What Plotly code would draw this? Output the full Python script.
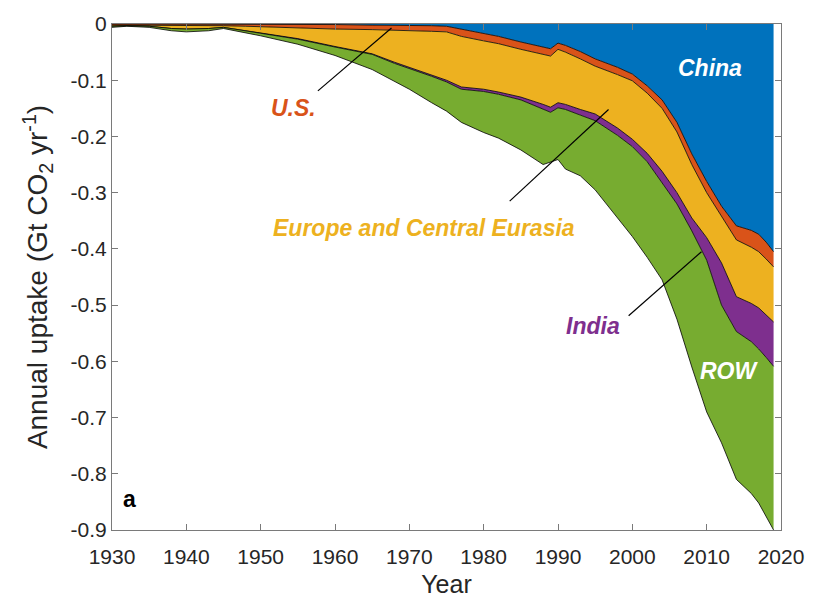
import plotly.graph_objects as go

# Annual CO2 uptake by region (Gt CO2 per year; negative = uptake)
years = [1930, 1932, 1935, 1938, 1940, 1943, 1945, 1948, 1950, 1955, 1960, 1965,
         1968, 1970, 1973, 1975, 1977, 1980, 1982, 1985, 1988, 1989, 1990, 1991,
         1993, 1995, 1998, 2000, 2002, 2004, 2006, 2008, 2010, 2012, 2014, 2016,
         2017, 2018, 2019]

china = [0.000, 0.000, 0.000, 0.000, 0.000, 0.000, 0.000, 0.000, 0.000, -0.001, -0.001, -0.002,
         -0.002, -0.002, -0.003, -0.004, -0.009, -0.017, -0.022, -0.032, -0.041, -0.044, -0.034, -0.038,
         -0.049, -0.062, -0.077, -0.089, -0.110, -0.135, -0.175, -0.231, -0.280, -0.324, -0.359, -0.367,
         -0.374, -0.388, -0.405]

us = [-0.002, -0.002, -0.002, -0.003, -0.003, -0.003, -0.003, -0.004, -0.005, -0.006, -0.008, -0.008,
      -0.009, -0.009, -0.010, -0.010, -0.013, -0.013, -0.013, -0.013, -0.013, -0.013, -0.011, -0.012,
      -0.013, -0.013, -0.013, -0.012, -0.013, -0.015, -0.017, -0.019, -0.020, -0.018, -0.025, -0.030,
      -0.031, -0.030, -0.027]

europe = [-0.002, -0.001, -0.002, -0.005, -0.006, -0.005, -0.003, -0.008, -0.012, -0.019, -0.031, -0.043,
          -0.057, -0.066, -0.078, -0.086, -0.090, -0.086, -0.086, -0.085, -0.089, -0.091, -0.095, -0.093,
          -0.090, -0.085, -0.095, -0.104, -0.107, -0.112, -0.108, -0.095, -0.080, -0.083, -0.101, -0.100,
          -0.100, -0.099, -0.098]

india = [0.000, 0.000, 0.000, 0.000, 0.000, 0.000, 0.000, 0.000, 0.000, -0.001, -0.001, -0.001,
         -0.002, -0.002, -0.002, -0.003, -0.004, -0.004, -0.004, -0.005, -0.009, -0.009, -0.009, -0.009,
         -0.010, -0.012, -0.013, -0.013, -0.015, -0.020, -0.020, -0.023, -0.040, -0.075, -0.062, -0.068,
         -0.073, -0.076, -0.079]

row = [-0.002, -0.001, -0.002, -0.004, -0.005, -0.004, -0.002, -0.003, -0.004, -0.009, -0.015, -0.027,
       -0.032, -0.037, -0.047, -0.052, -0.059, -0.073, -0.078, -0.089, -0.098, -0.088, -0.092, -0.106,
       -0.108, -0.123, -0.147, -0.160, -0.170, -0.173, -0.205, -0.242, -0.270, -0.245, -0.263, -0.270,
       -0.274, -0.284, -0.291]

regions = ["China", "U.S.", "Europe and Central Eurasia", "India", "ROW"]
series = [china, us, europe, india, row]
colors = ["#0072BD", "#D95319", "#EDB120", "#7E2F8E", "#77AC30"]

FONT = "Liberation Sans, Arial, Helvetica, sans-serif"
AXIS_GRAY = "#7a7a7a"
TEXT_GRAY = "#262626"

fig = go.Figure()
for name, vals, col in zip(regions, series, colors):
    fig.add_trace(go.Scatter(
        x=years, y=vals, name=name, mode="lines",
        stackgroup="uptake", fillcolor=col,
        line=dict(color="black", width=0.8),
        hoverinfo="x+y+name",
    ))

# Region labels
labels = [
    ("China", 2010.4, -0.079, "white"),
    ("U.S.", 1954.4, -0.150, "#D95319"),
    ("Europe and Central Eurasia", 1972.0, -0.362, "#EDB120"),
    ("India", 1994.7, -0.538, "#7E2F8E"),
    ("ROW", 2013.1, -0.617, "white"),
]
for txt, lx, ly, col in labels:
    fig.add_annotation(x=lx, y=ly, text=f"<b><i>{txt}</i></b>", showarrow=False,
                       font=dict(family=FONT, size=23, color=col),
                       xanchor="center", yanchor="middle")

# Leader lines from labels to their bands
leaders = [
    (1957.7, -0.119, 1967.6, -0.007),
    (1983.5, -0.315, 1996.8, -0.152),
    (1999.5, -0.519, 2009.3, -0.405),
]
for x0, y0, x1, y1 in leaders:
    fig.add_shape(type="line", x0=x0, y0=y0, x1=x1, y1=y1, xref="x", yref="y",
                  line=dict(color="black", width=1.2))

# Panel letter
fig.add_annotation(x=1932.3, y=-0.844, text="<b>a</b>", showarrow=False,
                   font=dict(family=FONT, size=23, color="black"),
                   xanchor="center", yanchor="middle")

ytick_vals = [0, -0.1, -0.2, -0.3, -0.4, -0.5, -0.6, -0.7, -0.8, -0.9]
ytick_text = ["0", "-0.1", "-0.2", "-0.3", "-0.4", "-0.5", "-0.6", "-0.7", "-0.8", "-0.9"]
xtick_vals = list(range(1930, 2021, 10))

fig.update_layout(
    width=816, height=606,
    margin=dict(l=112, r=29, t=15, b=76),
    paper_bgcolor="white", plot_bgcolor="white",
    showlegend=False,
    font=dict(family=FONT, size=21, color=TEXT_GRAY),
)
fig.update_xaxes(
    range=[1930, 2020], tickvals=xtick_vals, ticks="inside", ticklen=6,
    tickcolor=AXIS_GRAY, showline=True, linecolor=AXIS_GRAY, linewidth=1,
    mirror="ticks", showgrid=False, zeroline=False, ticklabelstandoff=8,
    tickfont=dict(family=FONT, size=21, color=TEXT_GRAY),
    title=dict(text="Year", font=dict(family=FONT, size=25, color=TEXT_GRAY), standoff=8),
)
fig.update_yaxes(
    range=[-0.9, 0], tickvals=ytick_vals, ticktext=ytick_text, ticks="inside", ticklen=6,
    tickcolor=AXIS_GRAY, showline=True, linecolor=AXIS_GRAY, linewidth=1,
    mirror="ticks", showgrid=False, zeroline=False,
    tickfont=dict(family=FONT, size=21, color=TEXT_GRAY),
    title=dict(text="Annual uptake (Gt CO<sub>2</sub> yr<sup>-1</sup>)",
               font=dict(family=FONT, size=28, color=TEXT_GRAY), standoff=14),
)

fig.write_html("out.html")
